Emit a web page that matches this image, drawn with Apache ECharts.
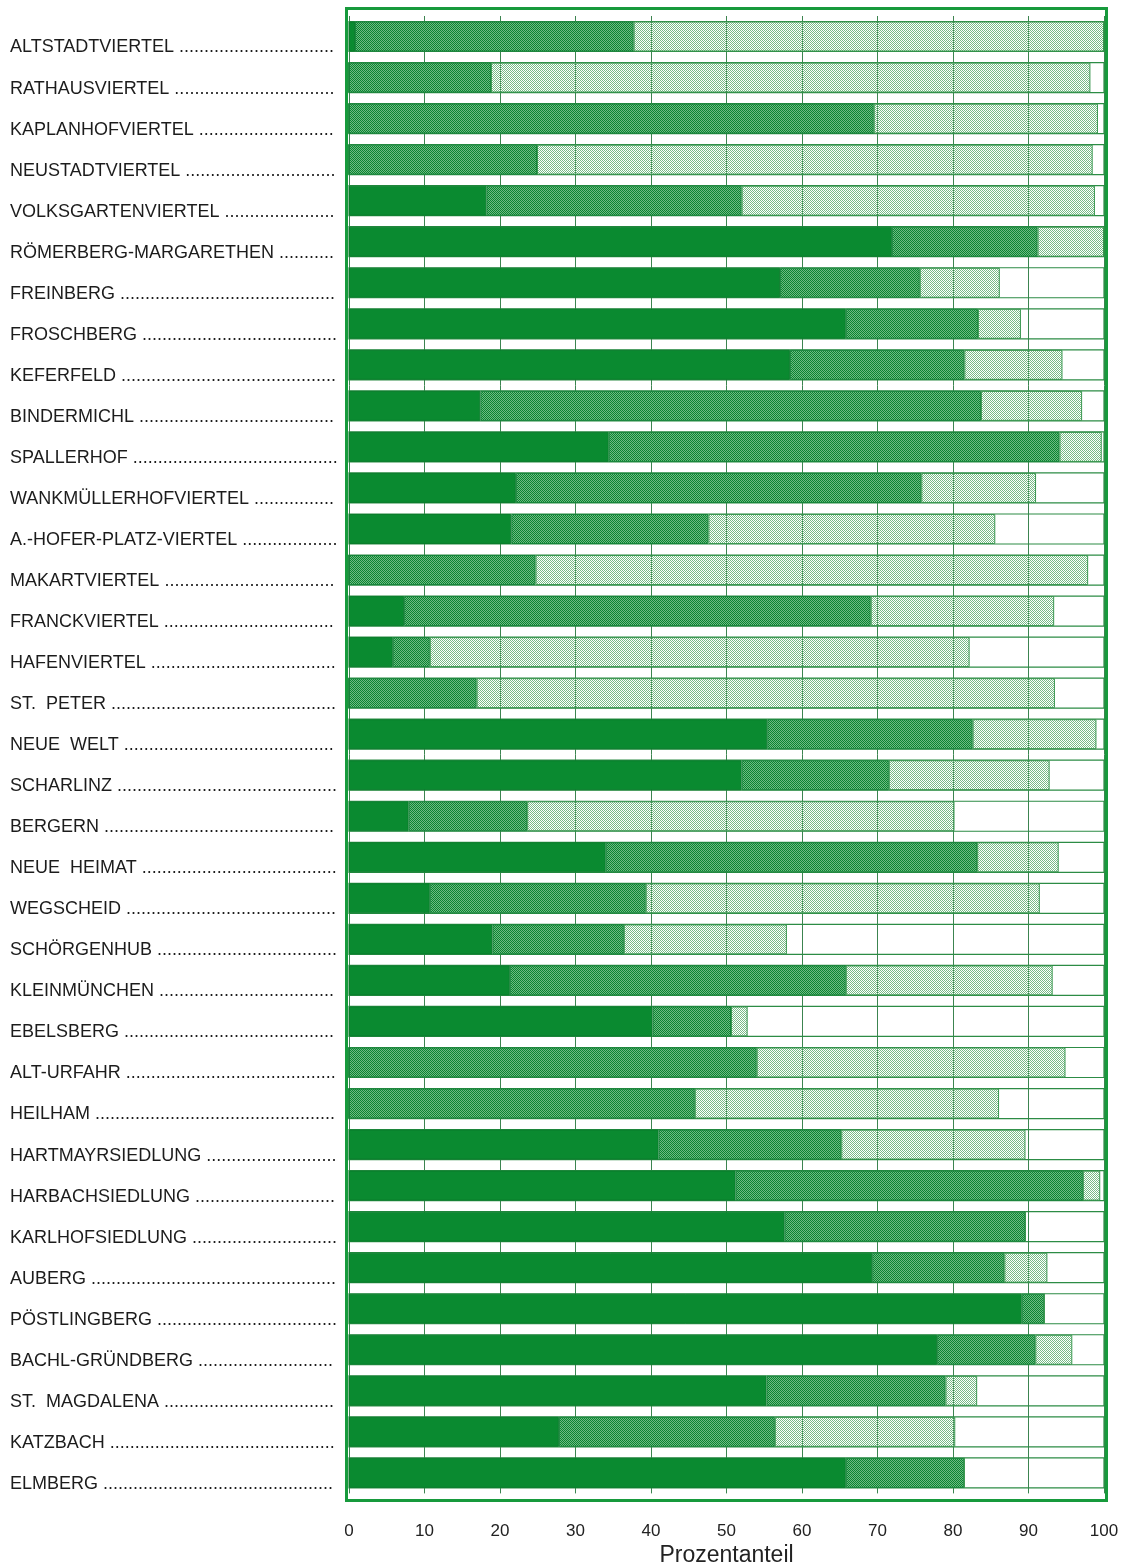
<!DOCTYPE html>
<html>
<head>
<meta charset="utf-8">
<title>Prozentanteil nach Stadtteilen</title>
<script src="https://cdn.jsdelivr.net/npm/echarts@6/dist/echarts.min.js"></script>
<style>
  html, body { margin: 0; padding: 0; background: #fff; }
  #chart { width: 1134px; height: 1567px; }
</style>
</head>
<body>
<div id="chart"></div>
<script>
// Stadtteile (von oben nach unten)
const districts = [
  'ALTSTADTVIERTEL', 'RATHAUSVIERTEL', 'KAPLANHOFVIERTEL', 'NEUSTADTVIERTEL',
  'VOLKSGARTENVIERTEL', 'RÖMERBERG-MARGARETHEN', 'FREINBERG', 'FROSCHBERG',
  'KEFERFELD', 'BINDERMICHL', 'SPALLERHOF', 'WANKMÜLLERHOFVIERTEL',
  'A.-HOFER-PLATZ-VIERTEL', 'MAKARTVIERTEL', 'FRANCKVIERTEL', 'HAFENVIERTEL',
  'ST.  PETER', 'NEUE  WELT', 'SCHARLINZ', 'BERGERN',
  'NEUE  HEIMAT', 'WEGSCHEID', 'SCHÖRGENHUB', 'KLEINMÜNCHEN',
  'EBELSBERG', 'ALT-URFAHR', 'HEILHAM', 'HARTMAYRSIEDLUNG',
  'HARBACHSIEDLUNG', 'KARLHOFSIEDLUNG', 'AUBERG', 'PÖSTLINGBERG',
  'BACHL-GRÜNDBERG', 'ST.  MAGDALENA', 'KATZBACH', 'ELMBERG'
];

// Anteile in Prozent
const darkShare = [
  0.8, 0, 0, 0, 18.2, 71.9, 57.1, 65.8, 58.4, 17.4, 34.4, 22.1,
  21.5, 0, 7.3, 5.8, 0, 55.4, 52.0, 7.9, 34.0, 10.7, 19.0, 21.3,
  40.2, 0, 0, 41.0, 51.2, 57.7, 69.3, 89.1, 77.9, 55.3, 27.8, 65.8
];
const midShare = [
  36.9, 18.8, 69.5, 24.9, 33.8, 19.3, 18.5, 17.5, 23.1, 66.3, 59.7, 53.7,
  26.1, 24.7, 61.8, 4.9, 16.9, 27.2, 19.5, 15.7, 49.2, 28.6, 17.4, 44.5,
  10.4, 54.0, 45.8, 24.2, 46.0, 31.9, 17.5, 3.0, 13.0, 23.7, 28.6, 15.7
];
const lightShare = [
  62.3, 79.4, 29.7, 73.6, 46.8, 8.8, 10.6, 5.7, 13.0, 13.4, 5.6, 15.2,
  38.0, 73.2, 24.3, 71.5, 76.6, 16.4, 21.3, 56.6, 10.8, 52.2, 21.6, 27.4,
  2.2, 40.9, 40.3, 24.4, 2.3, 0, 5.7, 0, 4.9, 4.2, 23.9, 0
];

const FONT_FAMILY = '"Liberation Sans", Arial, sans-serif';
const LABEL_FONT = '18px ' + FONT_FAMILY;
const LEADER_END = 328; // Breite Name + Punktreihe

// Punktreihe hinter jedem Namen, bis zur gleichen rechten Kante
const measureCtx = document.createElement('canvas').getContext('2d');
measureCtx.font = LABEL_FONT;
const leaderLabels = {};
districts.forEach(name => {
  let txt = name + ' ';
  while (measureCtx.measureText(txt + '.').width <= LEADER_END) {
    txt += '.';
  }
  leaderLabels[name] = txt;
});

// Rasterflächen wie im Druck
const makeScreen = (fg, bg) => {
  const c = document.createElement('canvas');
  c.width = 2;
  c.height = 2;
  const ctx = c.getContext('2d');
  if (bg) {
    ctx.fillStyle = bg;
    ctx.fillRect(0, 0, 2, 2);
  }
  ctx.fillStyle = fg;
  ctx.fillRect(0, 0, 1, 1);
  ctx.fillRect(1, 1, 1, 1);
  return c;
};

const darkGreen = '#0a8a30';
const midScreen = { image: makeScreen('#0a8531', '#6fb983'), repeat: 'repeat' };
const lightScreen = { image: makeScreen('#78bb87', null), repeat: 'repeat' };

const chart = echarts.init(document.getElementById('chart'));

const barBase = {
  type: 'bar',
  stack: 'total',
  barWidth: 30,
  xAxisIndex: 0,
  yAxisIndex: 0,
};

const option = {
  animation: false,
  backgroundColor: '#fff',
  grid: [
    { left: 349, top: 16, width: 755, height: 1477.4, show: false,
      outerBoundsMode: 'none', containLabel: false },
    // äußerer Rahmen
    { left: 346.5, top: 8.5, width: 760, height: 1492, show: true,
      outerBoundsMode: 'none', containLabel: false,
      borderColor: '#179a3c', borderWidth: 3, backgroundColor: 'transparent' }
  ],
  xAxis: [
    {
      type: 'value',
      gridIndex: 0,
      min: 0,
      max: 100,
      interval: 10,
      axisLine: { show: false },
      axisTick: { show: false },
      splitLine: { show: true, lineStyle: { color: '#3c8450', width: 1 } },
      axisLabel: {
        margin: 29,
        fontSize: 17,
        color: '#222',
        fontFamily: FONT_FAMILY
      },
      name: 'Prozentanteil',
      nameLocation: 'middle',
      nameGap: 50,
      nameTextStyle: {
        fontSize: 23,
        color: '#222',
        fontFamily: FONT_FAMILY
      }
    },
    { type: 'value', gridIndex: 1, show: false, min: 0, max: 1 }
  ],
  yAxis: [
    {
      type: 'category',
      gridIndex: 0,
      inverse: true,
      data: districts,
      axisLine: { show: false },
      axisTick: { show: false },
      splitLine: { show: false },
      axisLabel: {
        align: 'left',
        margin: 339,
        verticalAlign: 'top',
        lineHeight: 22,
        fontSize: 18,
        color: '#1c1c1c',
        fontFamily: FONT_FAMILY,
        formatter: value => leaderLabels[value]
      }
    },
    { type: 'category', gridIndex: 1, show: false, data: ['x'] }
  ],
  series: [
    {
      ...barBase,
      name: 'Anteil A',
      data: darkShare,
      itemStyle: { color: darkGreen, borderColor: '#0a7d2c', borderWidth: 1 },
      showBackground: true,
      backgroundStyle: {
        color: 'rgba(0,0,0,0)',
        borderColor: '#2c8c45',
        borderWidth: 1.2
      }
    },
    {
      ...barBase,
      name: 'Anteil B',
      data: midShare,
      itemStyle: { color: midScreen, borderColor: '#16843a', borderWidth: 1 }
    },
    {
      ...barBase,
      name: 'Anteil C',
      data: lightShare,
      itemStyle: { color: lightScreen, borderColor: '#3a9750', borderWidth: 1 }
    }
  ]
};

chart.setOption(option);
</script>
</body>
</html>
